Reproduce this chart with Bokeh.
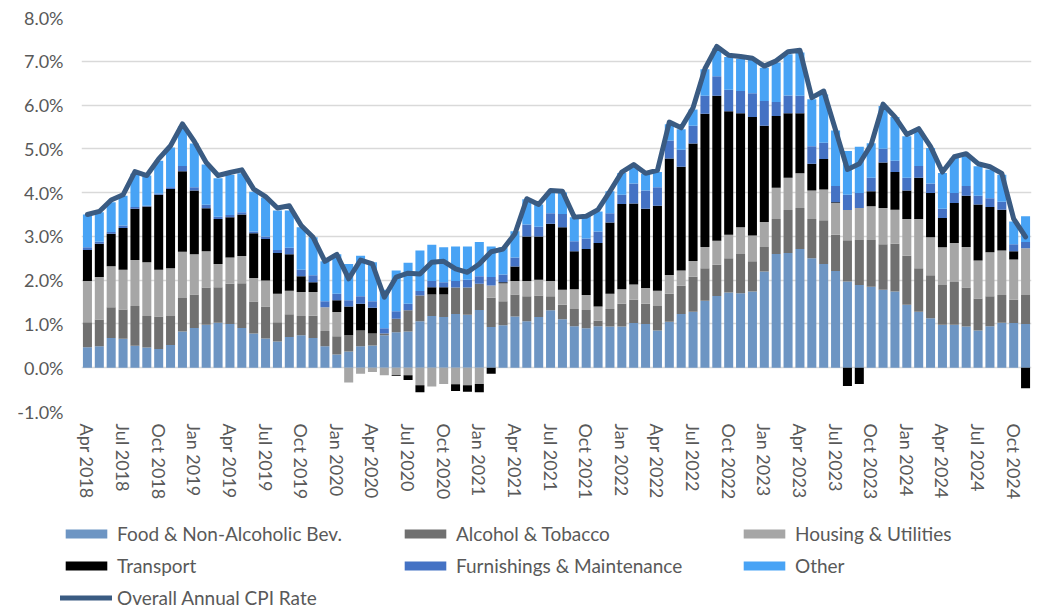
import numpy as np
import pandas as pd
from bokeh.plotting import figure
from bokeh.models import (ColumnDataSource, FixedTicker, PrintfTickFormatter,
                          Legend, LegendItem, Range1d)
from bokeh.embed import file_html
from bokeh.resources import INLINE

# ---------------- data ----------------
months = list(pd.date_range("2018-04-01", periods=80, freq="MS").strftime("%b %Y"))

food = [0.47, 0.49, 0.68, 0.66, 0.50, 0.46, 0.43, 0.52, 0.83, 0.91,
        0.98, 1.03, 1.00, 0.91, 0.78, 0.67, 0.60, 0.70, 0.74, 0.68,
        0.49, 0.30, 0.37, 0.49, 0.51, 0.74, 0.81, 0.83, 1.06, 1.18,
        1.16, 1.23, 1.21, 1.32, 0.93, 0.97, 1.17, 1.06, 1.16, 1.31,
        1.11, 0.95, 0.90, 0.95, 0.94, 0.94, 1.02, 1.00, 0.85, 1.05,
        1.23, 1.28, 1.53, 1.64, 1.72, 1.70, 1.74, 2.20, 2.60, 2.62,
        2.71, 2.50, 2.37, 2.21, 1.97, 1.89, 1.85, 1.78, 1.74, 1.44,
        1.28, 1.13, 0.98, 0.98, 0.94, 0.85, 0.95, 1.03, 1.02, 1.00]

alcohol = [0.57, 0.61, 0.70, 0.67, 0.91, 0.72, 0.74, 0.66, 0.76, 0.76,
           0.85, 0.81, 0.92, 1.02, 0.73, 0.73, 0.44, 0.52, 0.44, 0.51,
           0.35, 0.42, 0.37, 0.36, 0.27, 0.04, 0.31, 0.48, 0.59, 0.49,
           0.51, 0.60, 0.62, 0.60, 0.67, 0.55, 0.50, 0.57, 0.49, 0.32,
           0.33, 0.39, 0.42, 0.13, 0.40, 0.52, 0.53, 0.46, 0.56, 0.64,
           0.64, 0.80, 0.74, 0.71, 0.78, 0.90, 0.69, 0.56, 0.80, 0.98,
           0.94, 0.90, 1.00, 0.83, 0.94, 1.03, 1.07, 1.04, 1.09, 1.12,
           0.99, 0.98, 0.91, 0.98, 0.89, 0.73, 0.68, 0.63, 0.53, 0.66]

housing = [0.94, 0.97, 0.94, 0.91, 1.05, 1.23, 1.07, 1.09, 1.06, 0.92,
           0.83, 0.53, 0.60, 0.62, 0.54, 0.59, 0.65, 0.54, 0.55, 0.54,
           0.54, 0.55, -0.34, -0.14, -0.10, -0.17, -0.17, -0.17, -0.40, -0.43,
           -0.37, -0.38, -0.40, -0.37, 0.28, 0.41, 0.31, 0.35, 0.36, 0.35,
           0.34, 0.45, 0.34, 0.32, 0.35, 0.33, 0.35, 0.36, 0.35, 0.43,
           0.35, 0.36, 0.49, 0.55, 0.54, 0.61, 0.59, 0.57, 0.71, 0.74,
           0.79, 0.65, 0.70, 0.72, 0.69, 0.73, 0.77, 0.83, 0.78, 0.84,
           1.13, 0.87, 0.86, 0.89, 0.93, 0.87, 1.01, 1.02, 0.92, 1.07]

transport = [0.71, 0.76, 0.74, 0.95, 1.17, 1.27, 1.71, 1.81, 1.84, 1.46,
             0.98, 1.03, 0.92, 0.95, 1.02, 0.95, 0.93, 0.83, 0.36, 0.22,
             0.00, 0.27, 0.66, 0.61, 0.59, 0.00, -0.02, -0.11, -0.16, 0.17,
             0.17, -0.15, -0.15, -0.19, -0.14, 0.02, 0.33, 1.02, 0.99, 1.31,
             1.43, 0.87, 1.05, 1.45, 1.63, 1.95, 1.85, 1.81, 1.94, 2.66,
             2.37, 2.68, 3.04, 3.31, 2.82, 2.60, 2.71, 2.20, 1.64, 1.47,
             1.37, 0.61, 0.70, 0.02, -0.42, -0.37, 0.34, 1.04, 0.86, 0.65,
             0.94, 1.01, 0.67, 0.91, 1.17, 1.28, 1.03, 0.93, 0.19, -0.47]

furnishings = [0.06, 0.05, 0.04, 0.06, 0.04, 0.02, 0.03, 0.04, 0.12, 0.07,
               0.08, 0.05, 0.05, 0.05, 0.04, 0.06, 0.07, 0.15, 0.15, 0.16,
               0.14, 0.15, 0.14, 0.17, 0.15, 0.12, 0.17, 0.15, 0.10, 0.14,
               0.11, 0.15, 0.18, 0.17, 0.19, 0.18, 0.21, 0.27, 0.22, 0.24,
               0.30, 0.23, 0.24, 0.26, 0.21, 0.21, 0.46, 0.42, 0.42, 0.41,
               0.39, 0.41, 0.41, 0.45, 0.49, 0.51, 0.54, 0.56, 0.32, 0.41,
               0.40, 0.40, 0.37, 0.37, 0.35, 0.34, 0.31, 0.31, 0.26, 0.29,
               0.27, 0.22, 0.21, 0.23, 0.22, 0.20, 0.20, 0.18, 0.16, 0.14]

other = [0.75, 0.67, 0.68, 0.68, 0.76, 0.69, 0.75, 0.91, 0.90, 1.00,
         0.92, 0.88, 0.92, 0.89, 0.91, 0.89, 0.90, 0.85, 0.97, 0.87,
         0.91, 0.90, 0.83, 0.93, 0.89, 0.88, 0.93, 0.94, 0.93, 0.83,
         0.80, 0.79, 0.76, 0.78, 0.70, 0.62, 0.60, 0.58, 0.51, 0.47,
         0.49, 0.55, 0.52, 0.46, 0.50, 0.50, 0.39, 0.38, 0.35, 0.37,
         0.47, 0.37, 0.61, 0.63, 0.75, 0.74, 0.78, 0.76, 0.90, 0.94,
         0.99, 1.07, 1.10, 1.27, 1.00, 1.06, 0.79, 0.98, 1.00, 0.95,
         0.79, 0.81, 0.82, 0.80, 0.68, 0.67, 0.66, 0.62, 0.52, 0.59]

overall = [3.50, 3.57, 3.83, 3.95, 4.48, 4.39, 4.77, 5.07, 5.57, 5.17,
           4.69, 4.39, 4.46, 4.52, 4.08, 3.91, 3.65, 3.70, 3.25, 2.98,
           2.43, 2.59, 2.03, 2.46, 2.37, 1.61, 2.07, 2.16, 2.14, 2.41,
           2.43, 2.26, 2.18, 2.37, 2.65, 2.71, 3.06, 3.86, 3.73, 4.05,
           4.03, 3.44, 3.46, 3.61, 4.03, 4.47, 4.64, 4.44, 4.51, 5.61,
           5.48, 5.94, 6.83, 7.34, 7.14, 7.11, 7.07, 6.89, 7.01, 7.22,
           7.25, 6.17, 6.32, 5.43, 4.53, 4.66, 5.10, 6.02, 5.73, 5.33,
           5.46, 5.05, 4.47, 4.82, 4.89, 4.66, 4.59, 4.44, 3.40, 2.99]

series_names = ["Food & Non-Alcoholic Bev.", "Alcohol & Tobacco", "Housing & Utilities",
                "Transport", "Furnishings & Maintenance", "Other"]
series_values = [food, alcohol, housing, transport, furnishings, other]
series_colors = ["#6D95C3", "#707070", "#A6A6A6", "#000000", "#4472C4", "#48A3F5"]
line_name = "Overall Annual CPI Rate"
line_color = "#3A5B82"

# ---------------- main chart ----------------
FONT = "Lato"
TXT = "#595959"
n = len(months)
x = np.arange(n)

p = figure(width=1038, height=505, x_range=Range1d(-0.5, n - 0.5), y_range=Range1d(-1, 8),
           output_backend="svg", toolbar_location=None,
           min_border_left=81, min_border_right=7, min_border_top=17, min_border_bottom=94)
p.outline_line_color = None
p.background_fill_color = "white"
p.border_fill_color = "white"
p.xgrid.grid_line_color = None
p.ygrid.grid_line_color = "#D9D9D9"
p.ygrid.grid_line_width = 1.5

p.yaxis.ticker = FixedTicker(ticks=list(range(-1, 9)))
p.yaxis.formatter = PrintfTickFormatter(format="%.1f%%")
p.yaxis.axis_line_color = None
p.yaxis.major_tick_line_color = None
p.yaxis.minor_tick_line_color = None
p.yaxis.major_label_standoff = 12
p.yaxis.major_label_text_font = FONT
p.yaxis.major_label_text_font_size = "18px"
p.yaxis.major_label_text_color = TXT

tick_idx = list(range(0, n, 3))
p.xaxis.ticker = FixedTicker(ticks=tick_idx)
p.xaxis.major_label_overrides = {i: months[i] for i in tick_idx}
p.xaxis.major_label_orientation = "vertical"
p.xaxis.axis_line_color = None
p.xaxis.major_tick_line_color = None
p.xaxis.minor_tick_line_color = None
p.xaxis.major_label_standoff = 6
p.xaxis.major_label_text_font = FONT
p.xaxis.major_label_text_font_size = "18px"
p.xaxis.major_label_text_color = TXT

# ---------------- legend panel (separate root, same sources, out of view) ----------------
lg = figure(width=1038, height=104, x_range=Range1d(-0.5, n - 0.5), y_range=Range1d(100, 101),
            output_backend="svg", toolbar_location=None, min_border=0,
            min_border_left=0, min_border_right=0, min_border_top=0, min_border_bottom=0,
            x_axis_type=None, y_axis_type=None)
lg.outline_line_color = None
lg.xgrid.grid_line_color = None
lg.ygrid.grid_line_color = None
lg.background_fill_color = "white"
lg.border_fill_color = "white"

pos = np.zeros(n)
neg = np.zeros(n)
items = []
for name, vals, color in zip(series_names, series_values, series_colors):
    v = np.array(vals, dtype=float)
    bottom = np.where(v >= 0, pos, neg)
    top = bottom + v
    pos = np.where(v >= 0, top, pos)
    neg = np.where(v < 0, top, neg)
    src = ColumnDataSource(dict(x=x, top=top, bottom=bottom))
    p.vbar(x="x", top="top", bottom="bottom", width=0.76, source=src,
           fill_color=color, line_color=None)
    r = lg.vbar(x="x", top="top", bottom="bottom", width=0.76, source=src,
                fill_color=color, line_color=None)
    items.append(LegendItem(label=name, renderers=[r]))

lsrc = ColumnDataSource(dict(x=x, y=overall))
p.line("x", "y", source=lsrc, line_width=5, line_color=line_color,
       line_join="round", line_cap="round")
rl = lg.line("x", "y", source=lsrc, line_width=5, line_color=line_color, line_cap="round")
items.append(LegendItem(label=line_name, renderers=[rl]))

legend = Legend(items=items, location=(60, 0), orientation="horizontal", ncols=3,
                glyph_width=52, glyph_height=11, label_width=273, spacing=9,
                label_standoff=5, padding=0, margin=0, border_line_color=None,
                background_fill_alpha=0, label_text_font=FONT,
                label_text_font_size="19px", label_text_color=TXT)
lg.add_layout(legend)

open("out.html", "w").write(file_html([p, lg], INLINE))
